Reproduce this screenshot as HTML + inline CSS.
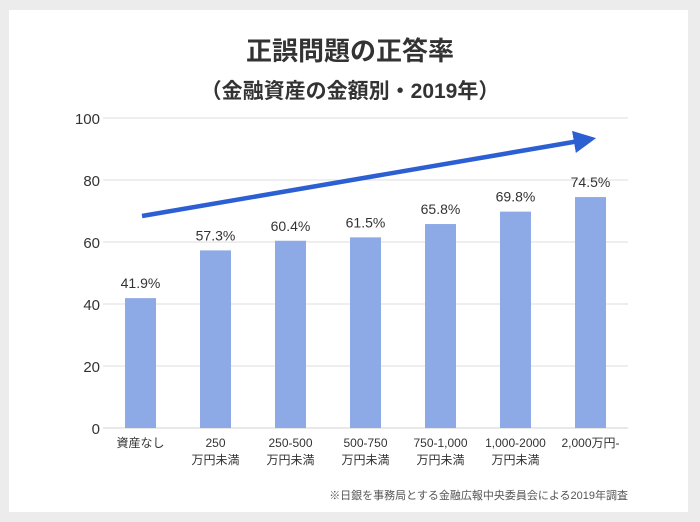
<!DOCTYPE html>
<html><head><meta charset="utf-8"><style>
body{margin:0;background:#ececec;width:700px;height:522px;overflow:hidden}
svg{display:block}
text{font-family:"Liberation Sans","Noto Sans CJK JP",sans-serif}
</style></head><body>
<svg width="700" height="522">
<rect x="9" y="10" width="679" height="502" fill="#fff"/>
<text x="350" y="60" text-anchor="middle" font-size="26" font-weight="bold" fill="#333">正誤問題の正答率</text>
<text x="350" y="98" text-anchor="middle" font-size="21" font-weight="bold" fill="#333">（金融資産の金額別・2019年）</text>
<g id="grid"></g><g id="bars"></g><g id="labels"></g>
<defs><marker id="ah" markerWidth="5" markerHeight="5" refX="2.5" refY="2.5" orient="auto"><path d="M0,0 L5,2.5 L0,5 Z" fill="#2b5fd2"/></marker></defs>
<line x1="142" y1="216" x2="585" y2="140" stroke="#2b5fd2" stroke-width="4.5" marker-end="url(#ah)"/>
<text x="628" y="499" text-anchor="end" font-size="11" fill="#555">※日銀を事務局とする金融広報中央委員会による2019年調査</text>
</svg>
<script>
const categories=[["資産なし"],["250","万円未満"],["250-500","万円未満"],["500-750","万円未満"],["750-1,000","万円未満"],["1,000-2000","万円未満"],["2,000万円-"]];
const values=[41.9,57.3,60.4,61.5,65.8,69.8,74.5];
const ticks=[0,20,40,60,80,100];
const NS="http://www.w3.org/2000/svg";
const x0=103,x1=628,yb=428,yt=118;
const y=v=>yb-(v/100)*(yb-yt);
const bw=(x1-x0)/categories.length;
const cx=i=>x0+bw*(i+0.5);
function mk(t,a,p){const e=document.createElementNS(NS,t);for(const k in a)e.setAttribute(k,a[k]);document.getElementById(p).appendChild(e);return e;}
ticks.forEach(t=>{
 const l=mk('line',{x1:x0,x2:x1,y1:y(t),y2:y(t),stroke:t===0?'#d0d0d0':'#dedede','stroke-width':1},'grid');
 
 
 const tx=mk('text',{x:100,y:y(t)+6,'text-anchor':'end','font-size':15,fill:'#333'},'grid');
 tx.textContent=t;
 
 
});
values.forEach((v,i)=>{
 const r=mk('rect',{x:cx(i)-15.5,y:y(v),width:31,height:yb-y(v),fill:'#8eaae6'},'bars');
 
 
 const t=mk('text',{x:cx(i),y:y(v)-10,'text-anchor':'middle','font-size':14,fill:'#333'},'labels');
 t.textContent=v.toFixed(1)+'%';
 
 
 categories[i].forEach((s,j)=>{
  const c=mk('text',{x:cx(i),y:447+j*17,'text-anchor':'middle','font-size':12,fill:'#333'},'labels');
  c.textContent=s;
  
  
 });
});
</script>
</body></html>
